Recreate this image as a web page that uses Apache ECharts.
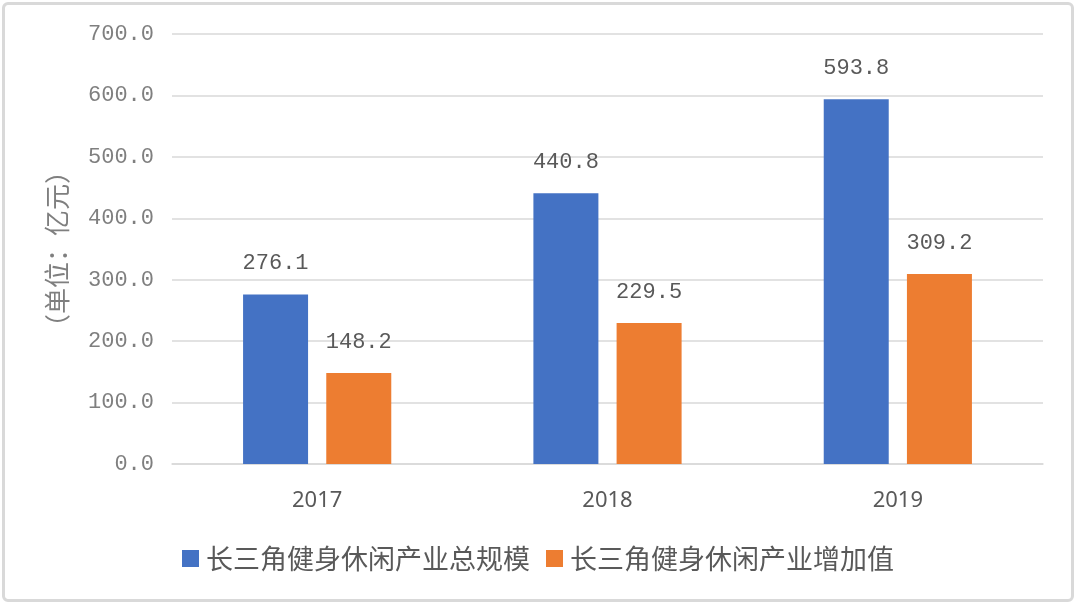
<!DOCTYPE html>
<html>
<head>
<meta charset="utf-8">
<script src="https://cdn.jsdelivr.net/npm/echarts@6/dist/echarts.min.js"></script>
<style>
  html, body { margin: 0; padding: 0; background: #fff; }
  #main { position: absolute; left: 2px; top: 2px; width: 1072px; height: 600px;
          border: 3px solid #d9d9d9; border-radius: 6px; box-sizing: border-box; }
</style>
</head>
<body>
<div id="main"></div>
<script>
var years = ['2017', '2018', '2019'];
var totalScale = [276.1, 440.8, 593.8];
var addedValue = [148.2, 229.5, 309.2];
var seriesNames = ['长三角健身休闲产业总规模', '长三角健身休闲产业增加值'];

var chart = echarts.init(document.getElementById('main'));
var labelStyle = {
  show: true,
  position: 'top',
  distance: 20,
  color: '#595959',
  fontSize: 22,
  fontFamily: 'Liberation Mono',
  formatter: function (p) { return p.value.toFixed(1); }
};

chart.setOption({
  animation: false,
  color: ['#4472C4', '#ED7D31'],
  grid: { left: 167, right: 28, top: 29, bottom: 135 },
  legend: {
    bottom: 22,
    left: 'center',
    itemWidth: 17,
    itemHeight: 17,
    itemGap: 16,
    icon: 'rect',
    textStyle: { fontSize: 27, color: '#595959', fontFamily: 'Noto Sans CJK SC', padding: [0, 0, 0, 2] },
    data: seriesNames
  },
  xAxis: {
    type: 'category',
    data: years,
    axisLine: { lineStyle: { color: '#d9d9d9', width: 1.5 } },
    axisTick: { show: false },
    axisLabel: { fontSize: 22, color: '#595959', margin: 26, fontFamily: 'Noto Sans' }
  },
  yAxis: {
    type: 'value',
    min: 0,
    max: 700,
    interval: 100,
    name: '（单位：亿元）',
    nameLocation: 'middle',
    nameGap: 102,
    nameRotate: 90,
    nameTextStyle: { fontSize: 26, color: '#7f7f7f', fontFamily: 'Noto Sans CJK SC' },
    axisLabel: {
      fontSize: 22, color: '#7f7f7f', margin: 18, fontFamily: 'Liberation Mono',
      formatter: function (v) { return v.toFixed(1); }
    },
    splitLine: { lineStyle: { color: '#d9d9d9', width: 1.5 } },
    axisLine: { show: false },
    axisTick: { show: false }
  },
  series: [
    { name: seriesNames[0], type: 'bar', data: totalScale, barWidth: 65, barGap: '28%', label: labelStyle },
    { name: seriesNames[1], type: 'bar', data: addedValue, barWidth: 65, label: labelStyle }
  ]
});
</script>
</body>
</html>
